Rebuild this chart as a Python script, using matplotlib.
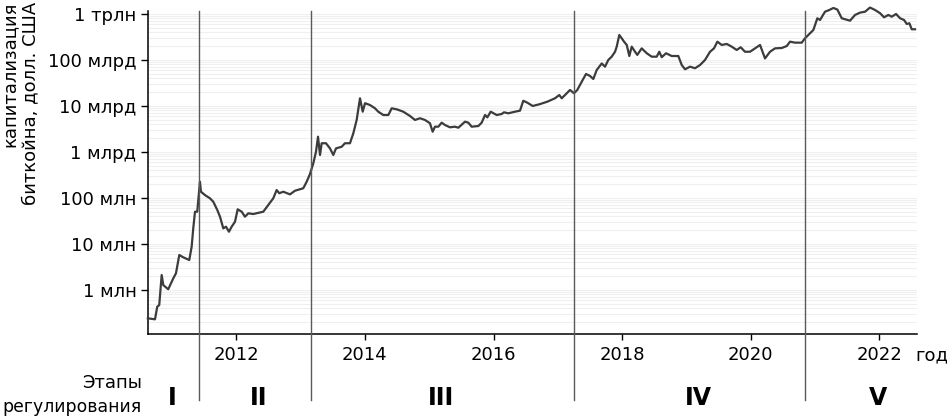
import matplotlib
matplotlib.use('Agg')
import matplotlib.pyplot as plt
import matplotlib.transforms as mtransforms
import numpy as np
from matplotlib.ticker import FixedLocator, LogLocator, NullFormatter

# Bitcoin market capitalisation, USD, time as decimal year
years = [2010.625, 2010.736, 2010.771, 2010.802, 2010.840, 2010.865, 2010.942, 2011.020,
         2011.062, 2011.114, 2011.176, 2011.269, 2011.306, 2011.331, 2011.358, 2011.393,
         2011.435, 2011.451, 2011.513, 2011.591, 2011.642, 2011.705, 2011.747, 2011.798,
         2011.840, 2011.886, 2011.928, 2011.980, 2012.022, 2012.084, 2012.135, 2012.187,
         2012.264, 2012.420, 2012.498, 2012.575, 2012.628, 2012.669, 2012.731, 2012.835,
         2012.913, 2012.991, 2013.042, 2013.095, 2013.146, 2013.198, 2013.240, 2013.271,
         2013.302, 2013.328, 2013.395, 2013.457, 2013.509, 2013.551, 2013.639, 2013.690,
         2013.768, 2013.820, 2013.872, 2013.924, 2013.966, 2014.002, 2014.079, 2014.157,
         2014.208, 2014.286, 2014.364, 2014.417, 2014.495, 2014.597, 2014.701, 2014.779,
         2014.857, 2014.935, 2015.012, 2015.054, 2015.090, 2015.142, 2015.194, 2015.246,
         2015.323, 2015.401, 2015.453, 2015.557, 2015.608, 2015.661, 2015.764, 2015.816,
         2015.868, 2015.904, 2015.956, 2016.050, 2016.128, 2016.163, 2016.230, 2016.334,
         2016.412, 2016.463, 2016.526, 2016.610, 2016.723, 2016.837, 2016.956, 2017.023,
         2017.061, 2017.138, 2017.190, 2017.252, 2017.303, 2017.372, 2017.439, 2017.501,
         2017.552, 2017.605, 2017.683, 2017.734, 2017.785, 2017.838, 2017.890, 2017.916,
         2017.956, 2017.994, 2018.030, 2018.072, 2018.112, 2018.149, 2018.201, 2018.236,
         2018.305, 2018.383, 2018.460, 2018.538, 2018.578, 2018.616, 2018.683, 2018.771,
         2018.874, 2018.927, 2018.978, 2019.056, 2019.134, 2019.212, 2019.289, 2019.367,
         2019.429, 2019.481, 2019.549, 2019.627, 2019.704, 2019.782, 2019.844, 2019.911,
         2019.989, 2020.067, 2020.145, 2020.222, 2020.300, 2020.378, 2020.482, 2020.560,
         2020.611, 2020.689, 2020.793, 2020.844, 2020.922, 2020.974, 2021.036, 2021.078,
         2021.155, 2021.222, 2021.285, 2021.347, 2021.415, 2021.467, 2021.544, 2021.622,
         2021.700, 2021.778, 2021.855, 2021.933, 2022.011, 2022.073, 2022.140, 2022.193,
         2022.260, 2022.322, 2022.384, 2022.426, 2022.467, 2022.504, 2022.555]
market_cap = [2.43e5, 2.31e5, 4.34e5, 4.72e5, 2.12e6, 1.28e6, 1.04e6, 1.79e6,
              2.31e6, 5.77e6, 5.14e6, 4.49e6, 8.73e6, 2.19e7, 5.04e7, 5.04e7,
              2.26e8, 1.37e8, 1.16e8, 9.84e7, 8.32e7, 5.48e7, 3.92e7, 2.19e7,
              2.38e7, 1.85e7, 2.38e7, 3.05e7, 5.68e7, 5.04e7, 3.92e7, 4.65e7,
              4.49e7, 5.04e7, 7.05e7, 9.84e7, 1.49e8, 1.27e8, 1.37e8, 1.20e8,
              1.44e8, 1.55e8, 1.63e8, 2.26e8, 3.33e8, 5.68e8, 1.02e9, 2.15e9,
              8.61e8, 1.55e9, 1.55e9, 1.20e9, 8.61e8, 1.20e9, 1.30e9, 1.55e9,
              1.55e9, 2.55e9, 4.97e9, 1.47e10, 7.52e9, 1.15e10, 1.05e10, 8.91e9,
              7.52e9, 6.37e9, 6.37e9, 8.91e9, 8.47e9, 7.52e9, 6.07e9, 4.97e9,
              5.41e9, 4.97e9, 4.21e9, 2.76e9, 3.55e9, 3.55e9, 4.34e9, 3.86e9,
              3.44e9, 3.55e9, 3.37e9, 4.56e9, 4.34e9, 3.55e9, 3.67e9, 4.34e9,
              6.37e9, 5.67e9, 7.52e9, 6.37e9, 6.70e9, 7.29e9, 6.93e9, 7.52e9,
              7.91e9, 1.30e10, 1.18e10, 1.00e10, 1.10e10, 1.24e10, 1.47e10, 1.73e10,
              1.47e10, 1.89e10, 2.23e10, 1.89e10, 2.23e10, 3.37e10, 4.97e10, 4.49e10,
              3.86e10, 6.06e10, 8.40e10, 7.15e10, 1.00e11, 1.18e11, 1.51e11, 1.95e11,
              3.49e11, 2.96e11, 2.50e11, 2.12e11, 1.22e11, 1.95e11, 1.51e11, 1.29e11,
              1.79e11, 1.40e11, 1.18e11, 1.18e11, 1.51e11, 1.15e11, 1.40e11, 1.22e11,
              1.22e11, 7.78e10, 6.28e10, 7.15e10, 6.61e10, 7.78e10, 1.00e11, 1.51e11,
              1.79e11, 2.50e11, 2.12e11, 2.23e11, 1.95e11, 1.65e11, 1.89e11, 1.51e11,
              1.51e11, 1.79e11, 2.12e11, 1.08e11, 1.51e11, 1.79e11, 1.82e11, 2.01e11,
              2.50e11, 2.38e11, 2.38e11, 2.96e11, 3.80e11, 4.49e11, 8.07e11, 7.41e11,
              1.12e12, 1.22e12, 1.35e12, 1.25e12, 8.07e11, 7.67e11, 7.14e11, 9.51e11,
              1.07e12, 1.12e12, 1.38e12, 1.22e12, 1.04e12, 8.47e11, 9.51e11, 8.73e11,
              1.00e12, 8.07e11, 7.41e11, 6.06e11, 6.28e11, 4.65e11, 4.65e11]

# Regulation stage boundaries (decimal year) and stage names
stage_bounds = [2011.428, 2013.162, 2017.257, 2020.845]
stage_names = ['I', 'II', 'III', 'IV', 'V']
stage_label_x = [2011.0, 2012.34, 2015.18, 2019.18, 2021.98]

year_ticks = [2012, 2014, 2016, 2018, 2020, 2022]
cap_ticks = [1e6, 1e7, 1e8, 1e9, 1e10, 1e11, 1e12]
cap_labels = ['1 млн', '10 млн', '100 млн', '1 млрд', '10 млрд', '100 млрд', '1 трлн']

plt.rcParams['font.family'] = ['DejaVu Sans']
fs = 13

fig = plt.figure(figsize=(9.49, 4.2), dpi=100)
ax = fig.add_axes([0.1556, 0.204, 0.8103, 0.7698])

ax.plot(years, market_cap, color='#3c3c3c', linewidth=1.6, clip_on=False, zorder=3)
ax.set_yscale('log')
ax.set_xlim(2010.622, 2022.58)
ax.set_ylim(1.09e5, 1.16e12)

# faint horizontal grid (major and minor decades)
ax.yaxis.set_major_locator(FixedLocator(cap_ticks))
ax.yaxis.set_minor_locator(LogLocator(base=10, subs=np.arange(2, 10)))
ax.yaxis.set_minor_formatter(NullFormatter())
ax.set_yticklabels(cap_labels, fontsize=fs)
ax.grid(axis='y', which='both', color='#efefef', linewidth=0.8, zorder=0)
ax.tick_params(axis='y', which='minor', length=0)
ax.tick_params(axis='y', which='major', length=5, width=1.0, pad=3, color='black')

ax.set_xticks(year_ticks)
ax.set_xticklabels([str(y) for y in year_ticks], fontsize=fs)
ax.tick_params(axis='x', length=4.5, width=1.0, pad=4, color='black')

for side in ['top', 'right']:
    ax.spines[side].set_visible(False)
for side in ['left', 'bottom']:
    ax.spines[side].set_linewidth(1.1)
    ax.spines[side].set_color('black')

# stage boundaries extend below the axis into the stage label row
for xb in stage_bounds:
    ax.axvline(xb, ymin=-0.203, ymax=1.0, color='#5a5a5a', linewidth=1.0,
               clip_on=False, zorder=4)

stage_tr = mtransforms.blended_transform_factory(ax.transData, fig.transFigure)
for xs, name in zip(stage_label_x, stage_names):
    ax.text(xs, 0.0524, name, transform=stage_tr, ha='center', va='center',
            fontsize=17, fontweight='bold',
            family=['Liberation Sans Narrow', 'DejaVu Sans'])

fig.text(0.1496, 0.088, 'Этапы', ha='right', va='center', fontsize=fs)
fig.text(0.1496, 0.031, 'регулирования', ha='right', va='center', fontsize=12.4)
fig.text(0.965, 0.155, 'год', ha='left', va='center', fontsize=fs)

fig.text(0.021, 0.997, 'капитализация\nбиткойна, долл. США', rotation=90,
         ha='center', va='top', multialignment='right', fontsize=fs,
         linespacing=1.2)

fig.savefig('out.png', dpi=100)
